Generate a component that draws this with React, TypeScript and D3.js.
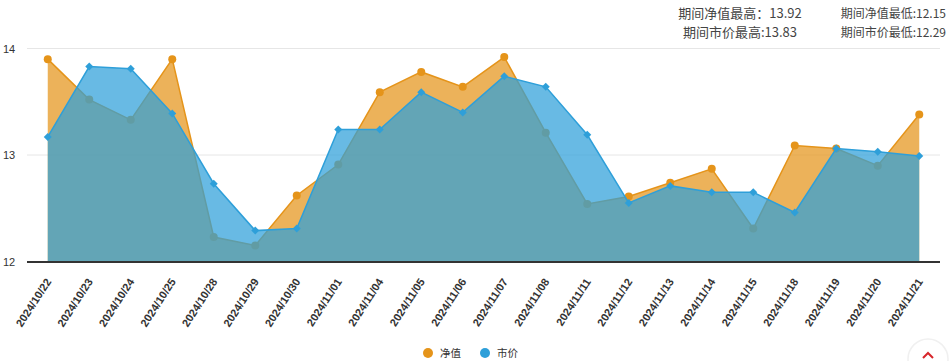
import React from "react";
import * as d3 from "d3";

const dates = [
  "2024/10/22", "2024/10/23", "2024/10/24", "2024/10/25", "2024/10/28", "2024/10/29",
  "2024/10/30", "2024/11/01", "2024/11/04", "2024/11/05", "2024/11/06", "2024/11/07",
  "2024/11/08", "2024/11/11", "2024/11/12", "2024/11/13", "2024/11/14", "2024/11/15",
  "2024/11/18", "2024/11/19", "2024/11/20", "2024/11/21",
];
const netValue = [
  13.9, 13.52, 13.33, 13.9, 12.23, 12.15, 12.62, 12.91, 13.59, 13.78, 13.64, 13.92,
  13.21, 12.54, 12.61, 12.74, 12.87, 12.31, 13.09, 13.06, 12.9, 13.38,
];
const marketPrice = [
  13.17, 13.83, 13.81, 13.39, 12.73, 12.29, 12.31, 13.24, 13.24, 13.59, 13.4, 13.74,
  13.64, 13.19, 12.55, 12.71, 12.65, 12.65, 12.46, 13.06, 13.03, 12.99,
];
const yTicks = [12, 13, 14];
const seriesNames = ["净值", "市价"];
const statsLines = [
  ["期间净值最高：13.92", "期间净值最低:12.15"],
  ["期间市价最高:13.83", "期间市价最低:12.29"],
];

const W = 950;
const H = 361;
const ORANGE = "#e5941a";
const BLUE = "#2e9fd9";
const CJK = "'Noto Sans CJK SC', 'Noto Sans', sans-serif";
const LAT = "'Liberation Sans', Arial, sans-serif";

export default function App() {
  const x = d3.scaleBand<string>().domain(dates).range([27, 940]);
  const cx = (d: string) => (x(d) as number) + x.bandwidth() / 2;
  const y = d3.scaleLinear().domain([12, 14]).range([261.5, 48.5]);

  const area = d3
    .area<number>()
    .x((_, i) => cx(dates[i]))
    .y0(y(12))
    .y1((v) => y(v));
  const line = d3
    .line<number>()
    .x((_, i) => cx(dates[i]))
    .y((v) => y(v));

  const diamond = (px: number, py: number, r: number) =>
    `M${px},${py - r}L${px + r},${py}L${px},${py + r}L${px - r},${py}Z`;

  return (
    <svg
      width={W}
      height={H}
      style={{ position: "absolute", left: 0, top: 0, background: "#fff" }}
    >
      {/* stats */}
      {statsLines.map((row, r) => (
        <g key={r}>
          <text x={740} y={18 + r * 19} textAnchor="middle" fontFamily={CJK} fontSize={13} fill="#444">
            {row[0]}
          </text>
          <text x={946} y={18 + r * 19} textAnchor="end" fontFamily={CJK} fontSize={12} fill="#444">
            {row[1]}
          </text>
        </g>
      ))}

      {/* grid */}
      {yTicks.filter((t) => t !== 12).map((t) => (
        <line key={t} x1={27} x2={940} y1={y(t)} y2={y(t)} stroke="#e6e6e6" strokeWidth={1} />
      ))}
      {yTicks.map((t) => (
        <text key={t} x={3} y={y(t) + 4} fontFamily={LAT} fontSize={11} fill="#333">
          {t}
        </text>
      ))}

      {/* orange series */}
      <path d={area(netValue) as string} fill={ORANGE} fillOpacity={0.72} />
      <path d={line(netValue) as string} fill="none" stroke={ORANGE} strokeWidth={1.5} />
      {netValue.map((v, i) => (
        <circle key={i} cx={cx(dates[i])} cy={y(v)} r={4} fill={ORANGE} />
      ))}

      {/* blue series */}
      <path d={area(marketPrice) as string} fill={BLUE} fillOpacity={0.72} />
      <path d={line(marketPrice) as string} fill="none" stroke={BLUE} strokeWidth={1.5} />
      {marketPrice.map((v, i) => (
        <path key={i} d={diamond(cx(dates[i]), y(v), 4)} fill={BLUE} />
      ))}

      {/* x axis */}
      <line x1={27} x2={940} y1={y(12) + 0.5} y2={y(12) + 0.5} stroke="#333" strokeWidth={2} />
      {dates.map((d) => (
        <text
          key={d}
          transform={`translate(${cx(d) + 4},${y(12) + 20}) rotate(-57)`}
          textAnchor="end"
          fontFamily={LAT}
          fontWeight="bold"
          fontSize={11}
          fill="#333"
        >
          {d}
        </text>
      ))}

      {/* legend */}
      {seriesNames.map((n, i) => (
        <g key={n} transform={`translate(${428 + i * 57},353)`}>
          <circle cx={0} cy={0} r={5} fill={i === 0 ? ORANGE : BLUE} />
          <text x={12} y={4} fontFamily={CJK} fontSize={10.5} fill="#333">
            {n}
          </text>
        </g>
      ))}

      {/* scroll-top button */}
      <circle cx={928} cy={359} r={20} fill="#fff" stroke="#f0f0f0" strokeWidth={1.5} />
      <path d="M923,358 L928,353 L933,358" fill="none" stroke="#d7262b" strokeWidth={2} />
    </svg>
  );
}
